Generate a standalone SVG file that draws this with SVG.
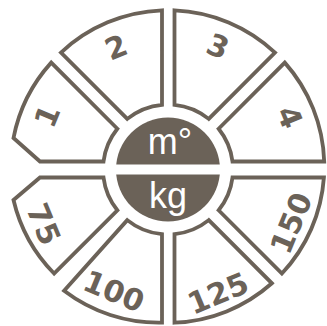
<svg xmlns="http://www.w3.org/2000/svg" width="327" height="326" viewBox="0 0 327 326">
<style>
.seg{fill:#ffffff;stroke:#6b6258;stroke-width:3.8;stroke-linejoin:miter}
.num{font-family:"DejaVu Sans",Verdana,sans-serif;font-weight:bold;font-size:30px;fill:#6b6258;text-anchor:middle}
.unit{font-family:"Liberation Sans",Arial,sans-serif;font-size:36px;fill:#ffffff;text-anchor:middle}
</style>
<rect width="327" height="326" fill="#ffffff"/>
<g id="seg1"><path class="seg" d="M 117.36 128.76 L 51.22 62.62 A 156.3 156.3 0 0 0 13.5 138 L 40 161.5 L 103.5 161.5 A 65 65 0 0 1 117.36 128.76 Z"/><text class="num" transform="translate(47,116) rotate(-67.5)" y="10.8">1</text></g>
<g id="seg2"><path class="seg" d="M 127.26 118.86 L 60.98 52.58 A 156.3 156.3 0 0 1 162 10.32 L 162 104.78 A 65 65 0 0 0 127.26 118.86 Z"/><text class="num" transform="translate(116,47) rotate(-22.5)" y="10.8">2</text></g>
<g id="seg3"><path class="seg" d="M 174.5 104.83 L 174.5 10.34 A 156.3 156.3 0 0 1 275.02 52.58 L 208.74 118.86 A 65 65 0 0 0 174.5 104.83 Z"/><text class="num" transform="translate(218,46) rotate(22.5)" y="10.8">3</text></g>
<g id="seg4"><path class="seg" d="M 218.64 128.76 L 284.78 62.62 A 156.3 156.3 0 0 1 324.2 161.5 L 232.5 161.5 A 65 65 0 0 0 218.64 128.76 Z"/><text class="num" transform="translate(290,117) rotate(67.5)" y="10.8">4</text></g>
<g id="seg150"><path class="seg" d="M 218.64 210.24 L 281.92 273.52 A 156.3 156.3 0 0 0 323.91 177.5 L 232.5 177.5 A 65 65 0 0 1 218.64 210.24 Z"/><text class="num" transform="translate(291,223) rotate(-67.5)" y="10.8">150</text></g>
<g id="seg125"><path class="seg" d="M 174.5 234.17 L 174.5 322.66 A 156.3 156.3 0 0 0 271.89 283.29 L 208.74 220.14 A 65 65 0 0 1 174.5 234.17 Z"/><text class="num" transform="translate(218,293) rotate(-22.5)" y="10.8">125</text></g>
<g id="seg100"><path class="seg" d="M 127.26 220.14 L 64.11 290.79 A 156.3 156.3 0 0 0 162 322.68 L 162 234.22 A 65 65 0 0 1 127.26 220.14 Z"/><text class="num" transform="translate(114,291) rotate(22.5)" y="10.8">100</text></g>
<g id="seg75"><path class="seg" d="M 103.5 177.5 L 40 177.5 L 13.5 200 A 156.3 156.3 0 0 0 54.08 273.52 L 117.36 210.24 A 65 65 0 0 1 103.5 177.5 Z"/><text class="num" transform="translate(44,224) rotate(67.5)" y="10.8">75</text></g>
<g id="center">
<circle cx="168" cy="169.5" r="52" fill="#6b6258"/>
<rect x="112" y="164.5" width="112" height="10" fill="#ffffff"/>
<text class="unit" x="170" y="154">m°</text>
<text class="unit" x="168" y="208">kg</text>
</g>
<g id="connectors"/>
</svg>
